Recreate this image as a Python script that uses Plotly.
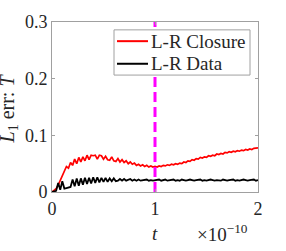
import plotly.graph_objects as go

# time in units of 1e-10 s
t = [round(0.02 * i, 2) for i in range(101)]

closure = [
    0.000, 0.003, 0.006, 0.012, 0.020, 0.030, 0.035, 0.045, 0.042, 0.052,
    0.047, 0.058, 0.050, 0.061, 0.053, 0.062, 0.055, 0.065, 0.057, 0.065,
    0.064, 0.065, 0.058, 0.065, 0.064, 0.058, 0.063, 0.057, 0.056, 0.062,
    0.055, 0.054, 0.059, 0.053, 0.057, 0.052, 0.055, 0.050, 0.053, 0.049,
    0.051, 0.047, 0.049, 0.046, 0.048, 0.045, 0.047, 0.044, 0.046, 0.044,
    0.045, 0.044, 0.046, 0.045, 0.047, 0.046, 0.048, 0.047, 0.049, 0.048,
    0.050, 0.049, 0.051, 0.050, 0.053, 0.052, 0.055, 0.054, 0.057, 0.056,
    0.059, 0.058, 0.061, 0.060, 0.062, 0.061, 0.064, 0.063, 0.065, 0.064,
    0.067, 0.066, 0.068, 0.067, 0.070, 0.069, 0.071, 0.070, 0.072, 0.071,
    0.073, 0.072, 0.074, 0.073, 0.075, 0.074, 0.076, 0.075, 0.077, 0.077,
    0.078,
]

data_err = [
    0.000, 0.001, 0.002, 0.016, 0.004, 0.019, 0.006, 0.007, 0.008, 0.009,
    0.022, 0.010, 0.024, 0.011, 0.024, 0.013, 0.025, 0.014, 0.025, 0.015,
    0.026, 0.016, 0.026, 0.017, 0.025, 0.018, 0.025, 0.018, 0.024, 0.019,
    0.024, 0.019, 0.020, 0.023, 0.020, 0.023, 0.020, 0.021, 0.023, 0.020,
    0.022, 0.020, 0.022, 0.020, 0.021, 0.021, 0.022, 0.020, 0.021, 0.020,
    0.021, 0.021, 0.022, 0.020, 0.021, 0.022, 0.020, 0.021, 0.021, 0.022,
    0.020, 0.021, 0.020, 0.022, 0.021, 0.020, 0.021, 0.022, 0.021, 0.020,
    0.021, 0.021, 0.022, 0.020, 0.021, 0.020, 0.021, 0.022, 0.021, 0.020,
    0.021, 0.021, 0.020, 0.022, 0.021, 0.020, 0.021, 0.021, 0.022, 0.020,
    0.021, 0.020, 0.021, 0.022, 0.021, 0.020, 0.021, 0.021, 0.022, 0.020,
    0.021,
]

series_names = ["L-R Closure", "L-R Data"]
series_colors = ["#ff0000", "#000000"]
marker_t = 1.0
x_ticks = [0, 1, 2]
y_ticks = [0, 0.1, 0.2, 0.3]
y_tick_text = ["0", "0.1", "0.2", "0.3"]

FONT = "Liberation Serif"
TXT = "#262626"
AX = "#a0a0a0"

# pixel layout helpers (plot area 52..258 x 19..192)
L, R, T, B = 52, 258, 19, 192
def px(xp):
    return (xp - L) / (R - L)
def py(yp):
    return (B - yp) / (B - T)

fig = go.Figure()
for name, vals, col, w in zip(series_names, [closure, data_err], series_colors, [1.7, 1.8]):
    fig.add_trace(go.Scatter(x=t, y=vals, mode="lines", name=name,
                             line=dict(color=col, width=w)))
fig.add_trace(go.Scatter(x=[marker_t, marker_t], y=[y_ticks[0], y_ticks[-1]],
                         mode="lines", showlegend=False, name="t mark",
                         line=dict(color="#ff00ff", width=3, dash="10px,5px")))

# hand-built legend (box, keys, labels)
shapes = [dict(type="rect", xref="paper", yref="paper",
               x0=px(114), x1=px(250), y0=py(73), y1=py(27),
               fillcolor="white", line=dict(color=AX, width=1), layer="above")]
annotations = []
for i, (name, col) in enumerate(zip(series_names, series_colors)):
    yrow = 38.5 + 23 * i
    shapes.append(dict(type="line", xref="paper", yref="paper",
                       x0=px(117), x1=px(148), y0=py(yrow), y1=py(yrow),
                       line=dict(color=col, width=2), layer="above"))
    annotations.append(dict(text=name, xref="paper", yref="paper",
                            x=px(149), y=py(yrow), xanchor="left", yanchor="middle",
                            showarrow=False,
                            font=dict(family=FONT, size=19, color=TXT)))

annotations += [
    dict(text="<i>t</i>", xref="x", yref="paper", x=1, y=py(234),
         showarrow=False, font=dict(family=FONT, size=19, color=TXT),
         xanchor="center", yanchor="middle"),
    dict(text="×10<sup>−10</sup>", xref="paper", yref="paper",
         x=px(195), y=py(234), showarrow=False,
         font=dict(family=FONT, size=19, color=TXT),
         xanchor="left", yanchor="middle"),
    dict(text="<i>L</i><sub>1</sub> err: <i>T</i>", xref="paper", yref="paper",
         x=px(8), y=py(107), textangle=-90,
         showarrow=False, font=dict(family=FONT, size=20, color=TXT),
         xanchor="center", yanchor="middle"),
]

fig.update_layout(
    width=286, height=251,
    margin=dict(l=L, r=286 - R, t=T, b=251 - B),
    paper_bgcolor="white", plot_bgcolor="white",
    font=dict(family=FONT, size=18, color=TXT),
    showlegend=False,
    xaxis=dict(range=[0, 2], tickvals=x_ticks, ticktext=[str(v) for v in x_ticks],
               showgrid=False, zeroline=False, showline=True, linecolor=AX,
               linewidth=1, mirror="ticks", ticks="inside", ticklen=3,
               tickcolor=AX, tickfont=dict(family=FONT, size=18, color=TXT)),
    yaxis=dict(range=[0, 0.3], tickvals=y_ticks, ticktext=y_tick_text,
               showgrid=False, zeroline=False, showline=True, linecolor=AX,
               linewidth=1, mirror="ticks", ticks="inside", ticklen=3,
               tickcolor=AX, tickfont=dict(family=FONT, size=18, color=TXT)),
    shapes=shapes,
    annotations=annotations,
)

fig.write_html("out.html", config={"displayModeBar": False},
               post_script="document.body.style.margin='0';document.body.style.padding='0';")
